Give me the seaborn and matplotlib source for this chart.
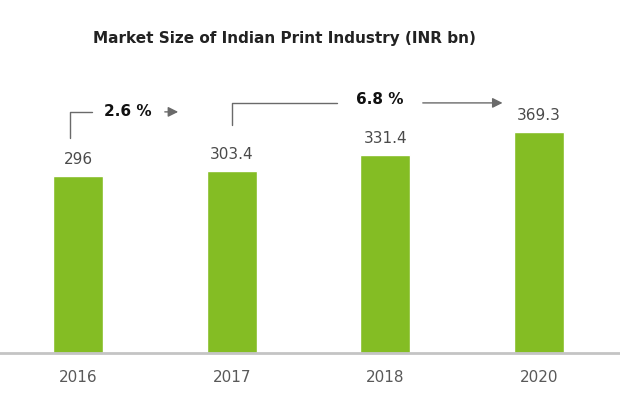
import matplotlib
matplotlib.use("Agg")
import matplotlib.pyplot as plt
import seaborn as sns
import pandas as pd

years = ["2016", "2017", "2018", "2020"]
values = [296, 303.4, 331.4, 369.3]
value_labels = ["296", "303.4", "331.4", "369.3"]
growth_labels = ["2.6 %", "6.8 %"]

sns.set_theme(style="white")
plt.rcParams['font.family'] = ['DejaVu Sans']

df = pd.DataFrame({"year": years, "value": values})

fig = plt.figure(figsize=(6.2, 3.94), dpi=100)
ax = fig.add_axes([0, 41/394, 1, 353/394])
sns.barplot(data=df, x="year", y="value", color="#84bd24", width=0.325,
            saturation=1, ax=ax)

ax.set_xlim(-0.507, 3.526)
ax.set_ylim(0, 590)
ax.set_xlabel("")
ax.set_ylabel("")
ax.set_yticks([])
for s in ["left", "right", "top"]:
    ax.spines[s].set_visible(False)
ax.spines["bottom"].set_color("#c4c4c4")
ax.spines["bottom"].set_linewidth(2)
ax.tick_params(axis="x", length=0, pad=12, labelsize=11, labelcolor="#595959")

for i, (v, lab) in enumerate(zip(values, value_labels)):
    ax.annotate(lab, (i, v), xytext=(0, 6.5), textcoords="offset points",
                ha="center", va="bottom", fontsize=11, color="#4a4a4a")

lc = "#6a6a6a"
# bracket 1
ax.plot([-0.052, -0.052, 0.091], [359, 403, 403], color=lc, lw=1)
ax.text(0.325, 403, growth_labels[0], ha="center", va="center",
        fontsize=11, fontweight="bold", color="#111111")
ax.annotate("", xy=(0.67, 403), xytext=(0.547, 403),
            arrowprops=dict(arrowstyle="-|>", color=lc, lw=1, mutation_scale=15))
# bracket 2
ax.plot([1.0, 1.0, 1.685], [381, 418, 418], color=lc, lw=1)
ax.text(1.965, 423, growth_labels[1], ha="center", va="center",
        fontsize=11, fontweight="bold", color="#111111")
ax.annotate("", xy=(2.78, 418), xytext=(2.225, 418),
            arrowprops=dict(arrowstyle="-|>", color=lc, lw=1, mutation_scale=15))

fig.text(284/620, 1 - 38/394, "Market Size of Indian Print Industry (INR bn)",
         ha="center", va="center", fontsize=11, fontweight="bold", color="#222222")

fig.savefig("out.png", dpi=100)
